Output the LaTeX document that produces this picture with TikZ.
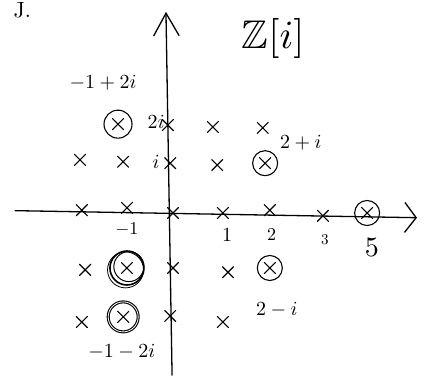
\documentclass[tikz,border=0pt]{standalone}
\usepackage{amsmath,amssymb}
\usepackage{tikz}
\usetikzlibrary{arrows.meta,shapes.misc}

\begin{document}
\begin{tikzpicture}[x=47pt,y=47pt,line cap=round,
  lat/.style={cross out,draw,line width=1.1pt,minimum size=10pt,inner sep=0pt},
  ring/.style={circle,draw,line width=1.1pt,minimum size=25pt,inner sep=0pt},
  lbl/.style={scale=#1,inner sep=0pt},lbl/.default=2]
\useasboundingbox (-3.681,-3.574) rectangle (5.404,4.532);
% axes
\coordinate (xl) at (-3.36,0.05);
\coordinate (xr) at (5.19,-0.1);
\coordinate (yb) at (-0.02,-3.45);
\coordinate (yt) at (-0.15,4.28);
\draw[line width=1.3pt,-{Straight Barb[length=4mm,width=10.5mm]}] (xl) -- (xr);
\draw[line width=1.3pt,-{Straight Barb[length=8mm,width=9mm]}] (yb) -- (yt);
% row 2i
\node[lat] (zm12) at (-1.17,1.89) {};
\node[lat] (z02) at (-0.11,1.87) {};
\node[lat] (z12) at (0.85,1.83) {};
\node[lat] (z22) at (1.91,1.81) {};
% row i
\node[lat] (zm21) at (-1.98,1.13) {};
\node[lat] (zm11) at (-1.06,1.09) {};
\node[lat] (z01) at (-0.06,1.06) {};
\node[lat] (z11) at (0.94,1.02) {};
\node[lat] (z21) at (1.96,1.06) {};
% row 0
\node[lat] (zm20) at (-1.94,0.06) {};
\node[lat] (zm10) at (-0.98,0.11) {};
\node[lat] (z00) at (0,0) {};
\node[lat] (z10) at (1.06,0) {};
\node[lat] (z20) at (2.06,0.06) {};
\node[lat] (z30) at (3.19,-0.06) {};
\node[lat] (z40) at (4.13,0) {};
% row -i
\node[lat] (zm2m1) at (-1.87,-1.21) {};
\node[lat] (zm1m1) at (-0.98,-1.17) {};
\node[lat] (z0m1) at (0,-1.17) {};
\node[lat] (z1m1) at (1.17,-1.26) {};
\node[lat] (z2m1) at (2.06,-1.17) {};
% row -2i
\node[lat] (zm2m2) at (-1.94,-2.32) {};
\node[lat] (zm1m2) at (-1.06,-2.21) {};
\node[lat] (z0m2) at (-0.06,-2.19) {};
\node[lat] (z1m2) at (1.06,-2.32) {};
% circled points
\node[ring,minimum size=28pt] (r1) at (zm12) {};
\node[ring] (r2) at (z21) {};
\node[ring] (r3) at (z40) {};
\node[ring] (r4) at (z2m1) {};
\node[ring,minimum size=30pt,double,double distance=0.8pt] (r5) at (zm1m2) {};
\node[ring,minimum size=34pt,line width=1.6pt] (r6) at (zm1m1) {};
\draw[line width=1pt] ([shift={(0.04,0.03)}]zm1m1) circle (15pt);
\draw[line width=0.8pt] ([shift={(-0.03,-0.04)}]zm1m1) circle (18pt);
% labels
\node[lbl] (lm12) at (-1.49,2.77) {$-1+2i$};
\node[lbl] (l02) at (-0.36,1.94) {$2i$};
\node[lbl] (l01) at (-0.36,1.08) {$i$};
\node[lbl] (l21) at (2.72,1.5) {$2+i$};
\node[lbl=1.8] (lm10) at (-0.98,-0.36) {$-1$};
\node[lbl=2] (l10) at (1.15,-0.47) {$1$};
\node[lbl=1.8] (l20) at (2.1,-0.47) {$2$};
\node[lbl=1.5] (l30) at (3.23,-0.57) {$3$};
\node[lbl=2.8] (l40) at (4.23,-0.74) {$5$};
\node[lbl] (l2m1) at (2.21,-2.06) {$2-i$};
\node[lbl] (lm1m2) at (-1.09,-2.96) {$-1-2i$};
\node[lbl=4] (title) at (2.13,3.72) {$\mathbb{Z}[i]$};
\node[lbl=2.2,anchor=north west] (item) at (-3.40,4.49) {J.};
\end{tikzpicture}
\end{document}
